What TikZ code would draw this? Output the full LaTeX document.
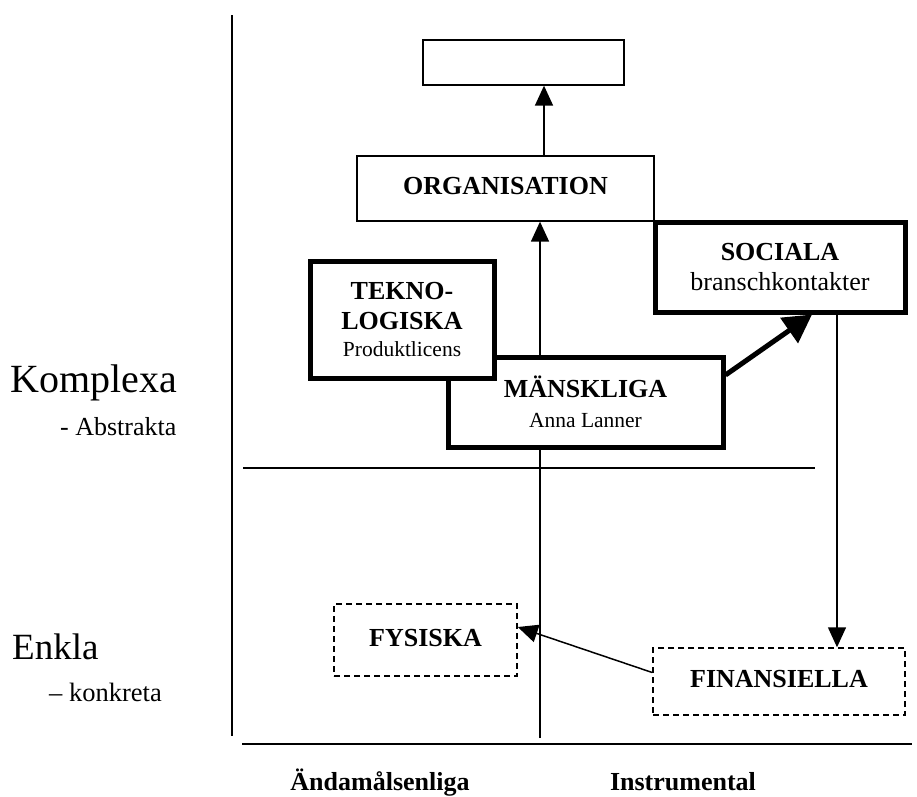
\documentclass[tikz,border=0pt]{standalone}
\usepackage{fontspec}
\setmainfont{Liberation Serif}
\usetikzlibrary{arrows.meta,calc}
\tikzset{
  thinbox/.style={draw, line width=1.3pt, fill=white, inner sep=0pt, align=center},
  thickbox/.style={draw, line width=5pt, fill=white, inner sep=0pt, align=center},
  dashbox/.style={draw, line width=1.5pt, dash pattern=on 6pt off 4pt, fill=white, inner sep=0pt, align=center},
  axis/.style={line width=2pt},
  conn/.style={line width=1.5pt, -{Triangle[length=20pt,width=18pt]}},
  thickconn/.style={line width=5pt, -{Triangle[length=28pt,width=30pt]}},
  big/.style={font=\fontsize{26}{30}\selectfont\bfseries},
  lbl/.style={anchor=west, inner sep=0pt}
}
\newcommand{\smalltxt}{\fontsize{21.5}{26}\selectfont\mdseries}
\begin{document}
\begin{tikzpicture}[x=1pt,y=-1pt]
\useasboundingbox (0,0) rectangle (917,796);
% axes
\coordinate (lat) at (232,15);
\coordinate (lab) at (232,736);
\coordinate (bl1) at (242,744);
\coordinate (bl2) at (912,744);
\coordinate (ml1) at (243,468);
\coordinate (ml2) at (815,468);
\draw[axis] (lat) -- (lab);
\draw[axis] (bl1) -- (bl2);
\draw[line width=1.5pt] (ml1) -- (ml2);
% boxes
\node[thinbox, minimum width=201pt, minimum height=45pt] (top) at (523.5,62.5) {};
\node[thinbox, minimum width=297pt, minimum height=65pt, big] (org) at (505.5,188.5) {\raisebox{5pt}{ORGANISATION}};
% center vertical line
\coordinate (cb) at (540,738);
\draw[conn] (cb) -- (cb |- org.south);
\coordinate (ta) at (544,0);
\draw[conn] (ta |- org.north) -- (ta |- top.south);
\node[thickbox, minimum width=275pt, minimum height=90pt, big] (man) at (585.5,402) {MÄNSKLIGA\\{\smalltxt Anna Lanner}};
\node[thickbox, minimum width=184pt, minimum height=117pt, big] (tek) at (402,319.5) {TEKNO-\\LOGISKA\\[-3pt]{\smalltxt Produktlicens}};
\node[thickbox, minimum width=250pt, minimum height=90pt, big] (soc) at (780,267) {SOCIALA\\{\fontsize{26}{30}\selectfont\mdseries branschkontakter}};
\node[dashbox, minimum width=183pt, minimum height=72pt, big] (fys) at (425.5,640) {\raisebox{5pt}{FYSISKA}};
\node[dashbox, minimum width=252pt, minimum height=67pt, big] (fin) at (779,681.5) {\raisebox{6pt}{FINANSIELLA}};
% connectors
\draw[thickconn] ([yshift=27pt]man.east) -- ([xshift=32pt]soc.south);
\coordinate (sx) at (837,0);
\draw[conn] (sx |- soc.south) -- (sx |- fin.north);
\draw[conn] ([yshift=9pt]fin.west) -- ([yshift=13pt]fys.east);
% labels
\node[lbl, font=\fontsize{40}{44}\selectfont] (komp) at (10,383) {Komplexa};
\node[lbl, font=\fontsize{26}{30}\selectfont] (abs) at (60,427) {- Abstrakta};
\node[lbl, font=\fontsize{37}{40}\selectfont] (enk) at (12,647) {Enkla};
\node[lbl, font=\fontsize{26.5}{30}\selectfont] (konk) at (49,692) {– konkreta};
\node[big] (anda) at (380,783) {Ändamålsenliga};
\node[big] (instr) at (683,782) {Instrumental};
\end{tikzpicture}
\end{document}
